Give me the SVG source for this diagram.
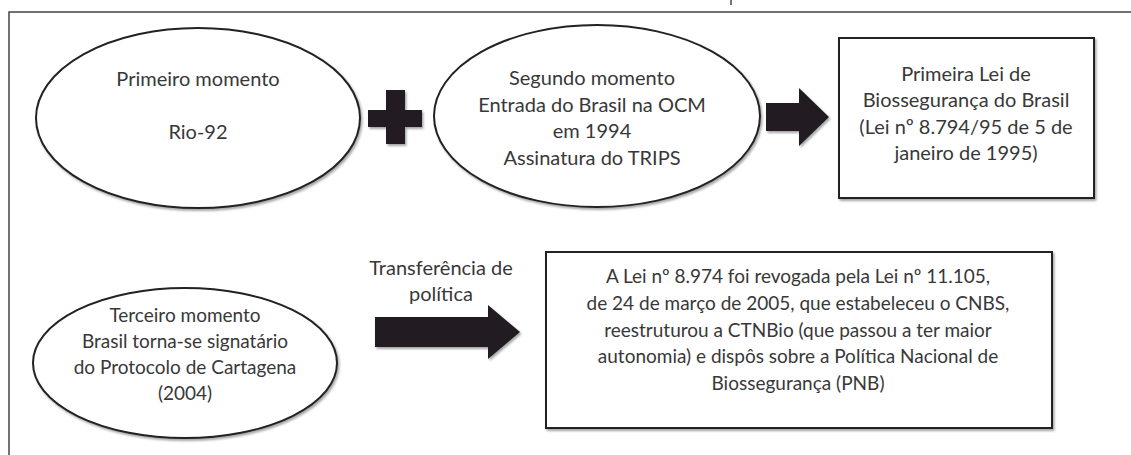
<svg xmlns="http://www.w3.org/2000/svg" width="1131" height="455" viewBox="0 0 1131 455">
<defs>
<filter id="sh" x="-10%" y="-10%" width="125%" height="125%">
<feDropShadow dx="1.5" dy="2" stdDeviation="1.2" flood-color="#000" flood-opacity="0.35"/>
</filter>
<style>
.shape{fill:#fff;stroke:#222;stroke-width:2;filter:url(#sh)}
.sym{fill:#231f20;filter:url(#sh)}
text{font-family:Lato,"Open Sans","DejaVu Sans",sans-serif;font-size:20px;fill:#383838;text-anchor:middle;font-weight:400}
.sm{font-size:19px}
.frame{fill:none;stroke:#444;stroke-width:1.5}
</style>
</defs>
<rect width="1131" height="455" fill="#fff"/>
<path class="frame" d="M9,455 V12 H1131"/>
<line x1="731" y1="0" x2="731" y2="5" stroke="#444" stroke-width="1.5"/>

<g id="n1">
<ellipse class="shape" cx="198" cy="118" rx="162" ry="90"/>
<text x="198" y="86">Primeiro momento</text>
<text x="198" y="139">Rio-92</text>
</g>

<g id="n2">
<ellipse class="shape" cx="597" cy="116" rx="163" ry="91"/>
<text x="592" y="85">Segundo momento</text>
<text x="592" y="112">Entrada do Brasil na OCM</text>
<text x="592" y="138">em 1994</text>
<text x="592" y="165">Assinatura do TRIPS</text>
</g>

<g id="n3">
<rect class="shape" x="839" y="38" width="255" height="160"/>
<text x="966" y="81">Primeira Lei de</text>
<text x="966" y="107">Biossegurança do Brasil</text>
<text x="966" y="134">(Lei nº 8.794/95 de 5 de</text>
<text x="966" y="160">janeiro de 1995)</text>
</g>

<g id="n4">
<ellipse class="shape" cx="185" cy="363" rx="152" ry="75"/>
<text class="sm" x="185" y="322">Terceiro momento</text>
<text class="sm" x="185" y="348">Brasil torna-se signatário</text>
<text class="sm" x="185" y="374">do Protocolo de Cartagena</text>
<text class="sm" x="185" y="400">(2004)</text>
</g>

<g id="n5">
<rect class="shape" x="546" y="252" width="506" height="176"/>
<text class="sm" x="798" y="283">A Lei nº 8.974 foi revogada pela Lei nº 11.105,</text>
<text class="sm" x="798" y="310">de 24 de março de 2005, que estabeleceu o CNBS,</text>
<text class="sm" x="798" y="337">reestruturou a CTNBio (que passou a ter maior</text>
<text class="sm" x="798" y="363">autonomia) e dispôs sobre a Política Nacional de</text>
<text class="sm" x="798" y="390">Biossegurança (PNB)</text>
</g>

<g id="connectors">
<polygon class="sym" points="386,90 405,90 405,110 422,110 422,127 405,127 405,144 386,144 386,127 368,127 368,110 386,110"/>
<polygon class="sym" points="766,103 799,103 799,88 829,117 799,146 799,131 766,131"/>
<polygon class="sym" points="375,317 488,317 488,305 520,332 488,359 488,347 375,347"/>
<text x="441" y="275">Transferência de</text>
<text x="441" y="301">política</text>
</g>
</svg>
